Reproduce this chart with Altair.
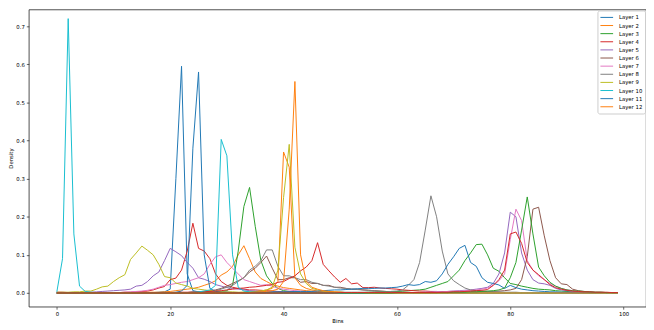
import altair as alt
import pandas as pd

bins = list(range(100))

# tab10 palette cycled over 24 lines (only the first 12 are labelled)
palette = ["#1f77b4", "#ff7f0e", "#2ca02c", "#d62728", "#9467bd",
           "#8c564b", "#e377c2", "#7f7f7f", "#bcbd22", "#17becf"]

layer_01 = [0,0,0,0,0,0,0,0,0,0,
            0,0,0,0,0,0,0.001,0.001,0.002,0.003,
            0.01,0.3,0.595,0.05,0.006,0.003,0.002,0.002,0.001,0.001,
            0.001,0.001,0.001,0.001,0.001,0.001,0.001,0.001,0.001,0.001,
            0.001,0.001,0.001,0.001,0.001,0.001,0.001,0.001,0.001,0.001,
            0.001,0.001,0.001,0.001,0.001,0.001,0.001,0.001,0.001,0.001,
            0,0,0,0,0,0,0,0,0,0,
            0,0,0,0,0,0,0,0,0,0,
            0,0,0,0,0,0,0,0,0,0,
            0,0,0,0,0,0,0,0,0,0]
layer_02 = [0,0,0,0,0,0,0,0,0,0.001,
            0.001,0.001,0.001,0.001,0.001,0.002,0.002,0.002,0.002,0.003,
            0.004,0.006,0.008,0.01,0.012,0.015,0.02,0.025,0.032,0.047,
            0.055,0.07,0.1,0.124,0.09,0.055,0.038,0.03,0.022,0.018,
            0.014,0.012,0.01,0.008,0.006,0.005,0.004,0.003,0.002,0.002,
            0.002,0.001,0.001,0.001,0.001,0.001,0.001,0.001,0.001,0.001,
            0.001,0.001,0.001,0.001,0.001,0,0,0,0,0,
            0,0,0,0,0,0,0,0,0,0,
            0,0,0,0,0,0,0,0,0,0,
            0,0,0,0,0,0,0,0,0,0]
layer_03 = [0,0,0,0,0,0,0,0,0,0,
            0,0,0,0,0,0,0,0,0,0,
            0,0,0,0,0,0,0.001,0.002,0.003,0.004,
            0.006,0.02,0.11,0.227,0.277,0.175,0.085,0.045,0.025,0.012,
            0.006,0.004,0.003,0.002,0.002,0.001,0.001,0.001,0.001,0.001,
            0.001,0.001,0.001,0.001,0.001,0,0,0,0,0,
            0,0,0,0,0,0,0,0,0,0,
            0,0,0,0,0,0,0,0,0,0,
            0,0,0,0,0,0,0,0,0,0,
            0,0,0,0,0,0,0,0,0,0]
layer_04 = [0.002,0.002,0.001,0.001,0.001,0.001,0.001,0.001,0.001,0.001,
            0.001,0.001,0.002,0.002,0.003,0.004,0.005,0.008,0.013,0.017,
            0.035,0.039,0.06,0.11,0.183,0.117,0.11,0.09,0.05,0.03,
            0.02,0.015,0.012,0.01,0.008,0.008,0.007,0.006,0.005,0.004,
            0.003,0.003,0.002,0.002,0.002,0.001,0.001,0.001,0.001,0.001,
            0.001,0.001,0.001,0.001,0.001,0.001,0.001,0.001,0.001,0.001,
            0.001,0.001,0.001,0.001,0.001,0.001,0.001,0.001,0.001,0.001,
            0.001,0.001,0.001,0.001,0.001,0.001,0.001,0.001,0.001,0.001,
            0.001,0.001,0.001,0.001,0.001,0.001,0.001,0.001,0.001,0.001,
            0.001,0.001,0.001,0.001,0.001,0.001,0.001,0.001,0.001,0.001]
layer_05 = [0,0,0,0,0,0.002,0.002,0.003,0.004,0.005,
            0.006,0.007,0.008,0.01,0.018,0.02,0.03,0.045,0.055,0.085,
            0.117,0.108,0.098,0.08,0.065,0.04,0.036,0.03,0.022,0.018,
            0.014,0.012,0.01,0.008,0.006,0.005,0.004,0.003,0.003,0.002,
            0.002,0.002,0.001,0.001,0.001,0.001,0.001,0.001,0.001,0.001,
            0.001,0.001,0.001,0.001,0.001,0,0,0,0,0,
            0,0,0,0,0,0,0,0,0,0,
            0,0,0,0,0,0,0,0,0,0,
            0,0,0,0,0,0,0,0,0,0,
            0,0,0,0,0,0,0,0,0,0]
layer_06 = [0,0,0,0,0,0,0,0,0,0,
            0,0,0,0,0,0,0,0,0,0,
            0.001,0.001,0.001,0.001,0.002,0.003,0.004,0.006,0.008,0.012,
            0.018,0.025,0.032,0.04,0.055,0.065,0.08,0.097,0.065,0.035,
            0.035,0.04,0.04,0.028,0.03,0.025,0.025,0.02,0.02,0.015,
            0.015,0.012,0.01,0.01,0.008,0.007,0.006,0.005,0.004,0.003,
            0.002,0.002,0.002,0.001,0.001,0.001,0.001,0.001,0.001,0.001,
            0.001,0.001,0.001,0.001,0.001,0,0,0,0,0,
            0,0,0,0,0,0,0,0,0,0,
            0,0,0,0,0,0,0,0,0,0]
layer_07 = [0,0,0,0,0,0,0,0,0,0,
            0.001,0.001,0.002,0.003,0.004,0.005,0.007,0.01,0.015,0.02,
            0.022,0.025,0.028,0.03,0.035,0.04,0.05,0.075,0.095,0.1,
            0.08,0.065,0.05,0.035,0.03,0.025,0.02,0.022,0.018,0.012,
            0.01,0.008,0.006,0.005,0.004,0.003,0.002,0.002,0.001,0.001,
            0.001,0.001,0.001,0.001,0.001,0.001,0.001,0.001,0.001,0.001,
            0,0,0,0,0,0,0,0,0,0,
            0,0,0,0,0,0,0,0,0,0,
            0,0,0,0,0,0,0,0,0,0,
            0,0,0,0,0,0,0,0,0,0]
layer_08 = [0,0,0,0,0,0,0,0,0,0,
            0,0,0,0,0,0,0,0,0,0,
            0.001,0.001,0.001,0.001,0.001,0.001,0.002,0.004,0.006,0.01,
            0.015,0.02,0.03,0.04,0.06,0.07,0.085,0.113,0.113,0.07,
            0.045,0.045,0.04,0.035,0.035,0.028,0.025,0.02,0.018,0.015,
            0.013,0.012,0.01,0.009,0.008,0.007,0.006,0.005,0.004,0.003,
            0.002,0.002,0.001,0.001,0.001,0.001,0.001,0.001,0.001,0.001,
            0,0,0,0,0,0,0,0,0,0,
            0,0,0,0,0,0,0,0,0,0,
            0,0,0,0,0,0,0,0,0,0]
layer_09 = [0.002,0.002,0.002,0.003,0.003,0.005,0.005,0.01,0.016,0.018,
            0.03,0.04,0.048,0.088,0.105,0.123,0.112,0.1,0.075,0.043,
            0.04,0.026,0.022,0.018,0.012,0.01,0.008,0.006,0.005,0.004,
            0.003,0.003,0.002,0.002,0.002,0.001,0.001,0.001,0.001,0.001,
            0.001,0.001,0.001,0.001,0.001,0,0,0,0,0,
            0,0,0,0,0,0,0,0,0,0,
            0,0,0,0,0,0,0,0,0,0,
            0,0,0,0,0,0,0,0,0,0,
            0,0,0,0,0,0,0,0,0,0,
            0,0,0,0,0,0,0,0,0,0]
layer_10 = [0.003,0.09,0.72,0.155,0.018,0.004,0.002,0.001,0.001,0.001,
            0.001,0.001,0.001,0.001,0.001,0.001,0.001,0.001,0.001,0.001,
            0,0,0,0,0,0,0,0,0,0,
            0,0,0,0,0,0,0,0,0,0,
            0,0,0,0,0,0,0,0,0,0,
            0,0,0,0,0,0,0,0,0,0,
            0,0,0,0,0,0,0,0,0,0,
            0,0,0,0,0,0,0,0,0,0,
            0,0,0,0,0,0,0,0,0,0,
            0,0,0,0,0,0,0,0,0,0]
layer_11 = [0,0,0,0,0,0,0,0,0,0,
            0,0,0,0,0,0,0,0,0,0,
            0.001,0.002,0.005,0.02,0.38,0.58,0.1,0.012,0.004,0.002,
            0.002,0.001,0.001,0.001,0.001,0.001,0.001,0.001,0.001,0.001,
            0,0,0,0,0,0,0,0,0,0,
            0,0,0,0,0,0,0,0,0,0,
            0,0,0,0,0,0,0,0,0,0,
            0,0,0,0,0,0,0,0,0,0,
            0,0,0,0,0,0,0,0,0,0,
            0,0,0,0,0,0,0,0,0,0]
layer_12 = [0,0,0,0,0,0,0,0,0,0,
            0,0,0,0,0,0,0,0,0,0,
            0,0,0,0,0,0,0,0,0,0,
            0.001,0.001,0.001,0.001,0.002,0.003,0.005,0.008,0.012,0.03,
            0.37,0.33,0.04,0.02,0.012,0.008,0.005,0.003,0.002,0.002,
            0.001,0.001,0.001,0.001,0.001,0,0,0,0,0,
            0,0,0,0,0,0,0,0,0,0,
            0,0,0,0,0,0,0,0,0,0,
            0,0,0,0,0,0,0,0,0,0,
            0,0,0,0,0,0,0,0,0,0]
extra_13 = [0,0,0,0,0,0,0,0,0,0,
            0,0,0,0,0,0,0,0,0,0,
            0,0,0,0,0,0,0,0,0,0,
            0,0,0,0,0,0,0,0,0,0,
            0.001,0.001,0.001,0.001,0.001,0.001,0.001,0.001,0.001,0.001,
            0.001,0.001,0.001,0.001,0.001,0.002,0.002,0.003,0.003,0.004,
            0.004,0.005,0.006,0.007,0.008,0.01,0.015,0.02,0.025,0.03,
            0.045,0.06,0.085,0.105,0.127,0.128,0.1,0.065,0.057,0.04,
            0.025,0.022,0.018,0.015,0.012,0.01,0.009,0.008,0.006,0.005,
            0.004,0.003,0.002,0.002,0.001,0.001,0.001,0.001,0.001,0.001]
extra_14 = [0,0,0,0,0,0,0,0,0,0,
            0,0,0,0,0,0,0,0,0,0,
            0.001,0.001,0.002,0.002,0.003,0.003,0.004,0.004,0.005,0.006,
            0.008,0.01,0.012,0.013,0.015,0.016,0.018,0.02,0.022,0.028,
            0.03,0.038,0.045,0.058,0.068,0.085,0.132,0.075,0.058,0.042,
            0.028,0.038,0.024,0.026,0.014,0.014,0.015,0.013,0.012,0.011,
            0.01,0.008,0.007,0.006,0.005,0.005,0.004,0.004,0.003,0.003,
            0.002,0.002,0.002,0.001,0.001,0.001,0.001,0.001,0.001,0.001,
            0.001,0.001,0.001,0.001,0.001,0.001,0.001,0.001,0.001,0.001,
            0.001,0.001,0.001,0.001,0.001,0.001,0.001,0.001,0.001,0.001]
extra_15 = [0,0,0,0,0,0,0,0,0,0,
            0,0,0,0,0,0,0,0,0,0,
            0,0,0,0,0,0,0,0,0,0,
            0,0,0,0,0,0,0,0,0,0,
            0,0,0,0,0,0,0,0,0,0,
            0.001,0.001,0.001,0.001,0.001,0.001,0.001,0.001,0.001,0.001,
            0.001,0.001,0.001,0.001,0.001,0.002,0.002,0.003,0.003,0.004,
            0.005,0.006,0.007,0.008,0.01,0.012,0.015,0.025,0.05,0.105,
            0.212,0.2,0.105,0.06,0.035,0.026,0.024,0.02,0.012,0.008,
            0.006,0.004,0.003,0.002,0.002,0.001,0.001,0.001,0.001,0.001]
extra_16 = [0,0,0,0,0,0,0,0,0,0,
            0,0,0,0,0,0,0,0,0,0,
            0,0,0,0,0,0,0,0,0,0,
            0,0,0,0,0,0,0,0,0,0,
            0,0,0,0,0,0,0,0,0,0,
            0,0,0,0,0,0,0,0,0,0,
            0.001,0.001,0.001,0.001,0.001,0.001,0.001,0.001,0.001,0.001,
            0.002,0.002,0.002,0.003,0.003,0.003,0.004,0.004,0.005,0.006,
            0.008,0.012,0.035,0.095,0.22,0.225,0.15,0.085,0.04,0.024,
            0.022,0.01,0.006,0.004,0.003,0.002,0.002,0.001,0.001,0.001]
extra_17 = [0,0,0,0,0,0,0,0,0,0,
            0,0,0,0,0,0,0,0,0,0,
            0,0,0,0,0,0,0,0,0,0,
            0,0,0,0,0,0,0,0,0,0,
            0,0,0,0,0,0,0,0,0,0,
            0.001,0.001,0.001,0.001,0.001,0.001,0.001,0.001,0.001,0.001,
            0.001,0.001,0.001,0.001,0.001,0.002,0.002,0.003,0.003,0.004,
            0.005,0.005,0.006,0.007,0.008,0.01,0.013,0.02,0.032,0.05,
            0.14,0.22,0.19,0.085,0.06,0.045,0.035,0.025,0.018,0.012,
            0.008,0.006,0.004,0.003,0.002,0.001,0.001,0.001,0.001,0.001]
extra_18 = [0,0,0,0,0,0,0,0,0,0,
            0,0,0,0,0,0,0,0,0,0,
            0,0,0,0,0,0,0,0,0,0,
            0,0,0,0,0,0,0,0,0,0,
            0.001,0.001,0.001,0.001,0.001,0.001,0.001,0.001,0.001,0.001,
            0.002,0.002,0.002,0.002,0.002,0.002,0.003,0.003,0.003,0.004,
            0.005,0.008,0.02,0.035,0.08,0.165,0.255,0.2,0.11,0.05,
            0.032,0.022,0.013,0.008,0.006,0.005,0.004,0.003,0.003,0.002,
            0.002,0.002,0.001,0.001,0.001,0.001,0.001,0.001,0.001,0.001,
            0,0,0,0,0,0,0,0,0,0]
extra_19 = [0,0,0,0,0,0,0,0,0,0,
            0,0,0,0,0,0,0,0,0,0,
            0,0,0,0,0,0,0,0,0,0.001,
            0.001,0.001,0.001,0.002,0.003,0.004,0.005,0.008,0.015,0.06,
            0.25,0.39,0.12,0.05,0.025,0.012,0.008,0.005,0.003,0.002,
            0.002,0.001,0.001,0.001,0.001,0.001,0,0,0,0,
            0,0,0,0,0,0,0,0,0,0,
            0,0,0,0,0,0,0,0,0,0,
            0,0,0,0,0,0,0,0,0,0,
            0,0,0,0,0,0,0,0,0,0]
extra_20 = [0,0,0,0,0,0,0,0,0,0,
            0,0,0,0,0,0,0,0,0,0,
            0.001,0.001,0.001,0.001,0.002,0.003,0.005,0.008,0.02,0.403,
            0.36,0.1,0.015,0.005,0.003,0.002,0.001,0.001,0.001,0.001,
            0,0,0,0,0,0,0,0,0,0,
            0,0,0,0,0,0,0,0,0,0,
            0,0,0,0,0,0,0,0,0,0,
            0,0,0,0,0,0,0,0,0,0,
            0,0,0,0,0,0,0,0,0,0,
            0,0,0,0,0,0,0,0,0,0]
extra_21 = [0,0,0,0,0,0,0,0,0,0,
            0,0,0,0,0,0,0,0,0,0,
            0,0,0,0,0,0,0,0,0,0,
            0.001,0.001,0.001,0.001,0.001,0.002,0.002,0.002,0.003,0.003,
            0.003,0.003,0.004,0.004,0.004,0.004,0.005,0.006,0.007,0.008,
            0.008,0.009,0.01,0.011,0.012,0.012,0.012,0.013,0.013,0.014,
            0.015,0.018,0.022,0.02,0.022,0.03,0.028,0.032,0.05,0.075,
            0.095,0.117,0.125,0.08,0.07,0.04,0.028,0.025,0.021,0.012,
            0.02,0.014,0.01,0.008,0.006,0.005,0.004,0.003,0.003,0.002,
            0.002,0.001,0.001,0.001,0.001,0.001,0.001,0.001,0.001,0.001]
extra_22 = [0,0,0,0,0,0,0,0,0,0,
            0,0,0,0,0,0,0,0,0,0,
            0,0,0,0,0,0,0,0,0,0,
            0,0,0,0.001,0.001,0.002,0.003,0.004,0.006,0.01,
            0.03,0.22,0.555,0.1,0.03,0.015,0.01,0.006,0.004,0.003,
            0.002,0.001,0.001,0.001,0.001,0,0,0,0,0,
            0,0,0,0,0,0,0,0,0,0,
            0,0,0,0,0,0,0,0,0,0,
            0,0,0,0,0,0,0,0,0,0,
            0,0,0,0,0,0,0,0,0,0]
extra_23 = [0,0,0,0,0,0,0,0,0,0,
            0,0,0,0,0,0,0,0,0,0,
            0,0,0,0,0,0,0,0,0,0,
            0,0,0,0,0,0,0,0,0,0,
            0,0,0,0,0,0,0,0,0,0,
            0,0,0,0,0,0,0,0,0,0,
            0.001,0.001,0.001,0.001,0.001,0.001,0.001,0.001,0.001,0.001,
            0.002,0.002,0.002,0.003,0.003,0.004,0.005,0.006,0.008,0.013,
            0.04,0.08,0.165,0.252,0.155,0.068,0.045,0.028,0.018,0.012,
            0.008,0.006,0.005,0.004,0.003,0.002,0.002,0.001,0.001,0.001]
extra_24 = [0,0,0,0,0,0,0,0,0,0,
            0,0,0,0,0,0,0,0,0,0,
            0,0,0,0,0,0,0,0,0,0,
            0,0,0,0,0,0,0,0,0,0,
            0,0,0,0,0,0,0,0,0,0,
            0.001,0.001,0.001,0.001,0.001,0.001,0.001,0.001,0.001,0.001,
            0.001,0.001,0.001,0.001,0.001,0.001,0.001,0.001,0.002,0.002,
            0.003,0.003,0.004,0.005,0.006,0.007,0.009,0.02,0.035,0.06,
            0.155,0.16,0.13,0.08,0.06,0.048,0.035,0.022,0.014,0.01,
            0.007,0.005,0.004,0.003,0.003,0.002,0.002,0.002,0.001,0.001]

series_values = [layer_01, layer_02, layer_03, layer_04, layer_05, layer_06,
                 layer_07, layer_08, layer_09, layer_10, layer_11, layer_12,
                 extra_13, extra_14, extra_15, extra_16, extra_17, extra_18,
                 extra_19, extra_20, extra_21, extra_22, extra_23, extra_24]
series_names = [f"Layer {i}" for i in range(1, 13)] + [f"extra {i}" for i in range(13, 25)]
legend_names = series_names[:12]
series_colors = [palette[i % 10] for i in range(len(series_names))]

for v in series_values:
    assert len(v) == 100, len(v)

rows = []
for k, (name, vals) in enumerate(zip(series_names, series_values)):
    for b, d in zip(bins, vals):
        rows.append({"series": name, "k": k, "bin": b, "density": d})
df = pd.DataFrame(rows)

FONT = "DejaVu Sans"
FS = 5.4

chart = alt.Chart(df).mark_line(strokeWidth=1.0, clip=True).encode(
    x=alt.X("bin:Q",
            scale=alt.Scale(domain=[-4.95, 103.95], nice=False, zero=False),
            axis=alt.Axis(title="Bins", values=[0, 20, 40, 60, 80, 100], format="d",
                          grid=False, domain=False, tickSize=2.5, tickWidth=0.6,
                          tickColor="#000", labelPadding=2, labelFontSize=FS,
                          labelColor="#000", labelFont=FONT, titleFont=FONT,
                          titleFontSize=FS, titleFontWeight="normal", titleColor="#000",
                          titlePadding=2.5)),
    y=alt.Y("density:Q",
            scale=alt.Scale(domain=[-0.036, 0.744], nice=False, zero=False),
            axis=alt.Axis(title="Density", values=[0, 0.1, 0.2, 0.3, 0.4, 0.5, 0.6, 0.7],
                          format=".1f", grid=False, domain=False, tickSize=2.5,
                          tickWidth=0.6, tickColor="#000", labelPadding=2,
                          labelFontSize=FS, labelColor="#000", labelFont=FONT,
                          titleFont=FONT, titleFontSize=FS, titleFontWeight="normal",
                          titleColor="#000", titlePadding=2)),
    color=alt.Color("series:N",
                    scale=alt.Scale(domain=series_names, range=series_colors),
                    sort=series_names,
                    legend=alt.Legend(title=None, orient="top-right", values=legend_names,
                                      symbolType="M-1.6,0H1.6", symbolSize=64,
                                      symbolStrokeWidth=1.0, labelFont=FONT,
                                      labelFontSize=FS, labelColor="#000",
                                      rowPadding=0.2, padding=2.5, offset=1,
                                      symbolOffset=2.4, labelOffset=7.8,
                                      strokeColor="#cccccc", fillColor="rgba(255,255,255,0.8)",
                                      cornerRadius=2)),
).properties(
    width=623, height=300, padding={"left": 0, "top": 0, "right": 0, "bottom": 0}
).configure_view(
    stroke="#222", strokeWidth=0.8
)

chart.save("out.html", embed_options={"renderer": "svg", "actions": False})
